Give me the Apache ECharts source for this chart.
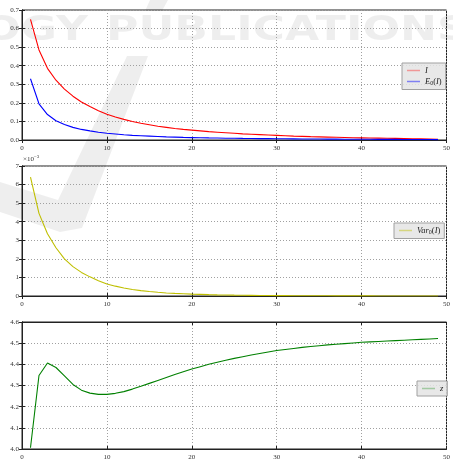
<!DOCTYPE html>
<html><head><meta charset="utf-8">
<script src="https://cdn.jsdelivr.net/npm/echarts@6/dist/echarts.min.js"></script>
<style>html,body{margin:0;padding:0;background:#fff}#c{width:453px;height:461px}</style>
</head><body><div id="c"></div><script>
// x positions (iteration index)
const X = [1,2,3,4,5,6,7,8,9,10,11,12,13,14,15,16,17,18,19,20,21,22,23,24,25,26,27,28,29,30,31,32,33,34,35,36,37,38,39,40,41,42,43,44,45,46,47,48,49];
// panel 1: I (red)
const I_VAL = [0.650,0.485,0.386,0.322,0.274,0.236,0.205,0.180,0.158,0.139,0.124,0.111,0.100,0.090,0.082,0.074,0.068,0.062,0.057,0.053,0.049,0.045,0.042,0.039,0.036,0.033,0.031,0.029,0.027,0.025,0.023,0.021,0.0195,0.018,0.017,0.0157,0.0145,0.0133,0.0122,0.0115,0.0108,0.0100,0.0093,0.0086,0.0079,0.0070,0.0061,0.0052,0.0042];
// panel 1: E0(I) (blue)
const E0_VAL = [0.330,0.195,0.137,0.104,0.083,0.068,0.057,0.049,0.042,0.036,0.032,0.028,0.025,0.023,0.021,0.019,0.017,0.0155,0.014,0.013,0.012,0.0112,0.0105,0.0098,0.0092,0.0086,0.0081,0.0076,0.0072,0.0068,0.0064,0.0060,0.0057,0.0054,0.0051,0.0048,0.0046,0.0043,0.0041,0.0039,0.0037,0.0035,0.0033,0.0031,0.0029,0.0027,0.0025,0.0023,0.0021];
// panel 2: Var0(I), in units of 1e-3
const VAR_E3 = [6.40,4.45,3.35,2.60,2.00,1.58,1.27,1.03,0.82,0.65,0.53,0.43,0.35,0.29,0.24,0.20,0.165,0.14,0.12,0.10,0.085,0.072,0.062,0.053,0.046,0.040,0.034,0.030,0.026,0.022,0.019,0.017,0.015,0.013,0.011,0.0095,0.0082,0.0071,0.0061,0.0053,0.0046,0.0040,0.0035,0.0030,0.0026,0.0023,0.0020,0.0017,0.0015];
// panel 3: z (green)
const Z_VAL = [4.006,4.347,4.406,4.385,4.345,4.305,4.278,4.264,4.258,4.258,4.263,4.271,4.283,4.296,4.310,4.324,4.338,4.352,4.365,4.378,4.389,4.400,4.410,4.419,4.428,4.436,4.444,4.451,4.458,4.465,4.470,4.475,4.480,4.484,4.488,4.492,4.495,4.498,4.501,4.504,4.506,4.508,4.510,4.512,4.514,4.516,4.518,4.520,4.522];
// tick settings
const X_TICKS = {min:0, max:50, interval:10};
const Y1_TICKS = {min:0, max:0.7, interval:0.1};
const Y2_TICKS = {min:0, max:7, interval:1};
const Y3_TICKS = {min:4.0, max:4.6, interval:0.1};

const pairs = (xs, ys) => xs.map((x, i) => [x, ys[i]]);
const FONT = 'Liberation Serif';
const grids = [
  {left:22, top:10, width:429, height:130},
  {left:22, top:166, width:429, height:130},
  {left:22, top:322, width:429, height:130}
].map(g => Object.assign(g, {show:true, borderColor:'#222', borderWidth:1, backgroundColor:'transparent', containLabel:false}));

const tick = {show:true, inside:true, length:3, lineStyle:{color:'#222', width:1}};
const split = {show:true, lineStyle:{color:'#a0a0a0', type:[1,2], width:1}};
const lbl = {fontSize:7, color:'#333', fontFamily:FONT};

const xAxis = [];
const yAxis = [];
for (let g = 0; g < 3; g++) {
  xAxis.push({type:'value', gridIndex:g, position:'bottom', ...X_TICKS,
    axisLine:{show:true, lineStyle:{color:'#222'}}, axisTick:tick, splitLine:split,
    axisLabel:Object.assign({margin:5, showMaxLabel:true}, lbl)});
  xAxis.push({type:'value', gridIndex:g, position:'top', ...X_TICKS,
    axisLine:{show:true, lineStyle:{color:'#222'}}, axisTick:tick, splitLine:{show:false}, axisLabel:{show:false}});
}
const yT = [Y1_TICKS, Y2_TICKS, Y3_TICKS];
const yFmt = [v => v.toFixed(1), v => String(Math.round(v)), v => v.toFixed(1)];
for (let g = 0; g < 3; g++) {
  yAxis.push({type:'value', gridIndex:g, position:'left', ...yT[g],
    axisLine:{show:true, lineStyle:{color:'#222'}}, axisTick:tick, splitLine:split,
    axisLabel:Object.assign({margin:3, formatter:yFmt[g]}, lbl)});
  yAxis.push({type:'value', gridIndex:g, position:'right', ...yT[g],
    axisLine:{show:true, lineStyle:{color:'#222'}}, axisTick:tick, splitLine:{show:false}, axisLabel:{show:false}});
}

const COLORS = {'I':'#ff0000', 'E0(I)':'#0000ff', 'Var0(I)':'#bfbf00', 'z':'#008000'};
const FADED = {'I':'rgba(255,0,0,0.35)', 'E0(I)':'rgba(0,0,255,0.45)', 'Var0(I)':'rgba(191,191,0,0.45)', 'z':'rgba(0,128,0,0.3)'};
const mk = (name, data, g) => ({
  name, type:'line', xAxisIndex:2*g, yAxisIndex:2*g, data, showSymbol:false, symbol:'none',
  smooth:false, lineStyle:{color:COLORS[name], width:1.1}, itemStyle:{color:COLORS[name]}, animation:false, z:3
});
const rich = {
  it:{fontStyle:'italic', fontFamily:FONT, fontSize:8.5, color:'#222'},
  rm:{fontFamily:FONT, fontSize:8.5, color:'#222'},
  sub:{fontFamily:FONT, fontSize:6, color:'#222', padding:[4,0,0,0]}
};
const legendFmt = {
  'I':'{it|I}',
  'E0(I)':'{it|E}{sub|0}{rm|(}{it|I}{rm|)}',
  'Var0(I)':'{it|Var}{sub|0}{rm|(}{it|I}{rm|)}',
  'z':'{it|z}'
};
const legendBase = {
  orient:'vertical', backgroundColor:'rgba(228,228,228,0.85)', borderColor:'#a0a0a0', borderWidth:1,
  borderRadius:0, padding:[3,4,3,5], itemGap:2, itemWidth:13, itemHeight:1.5, icon:'rect',
  selectedMode:false,
  formatter: n => legendFmt[n], textStyle:{fontFamily:FONT, fontSize:8.5, rich}
};
const legItems = names => names.map(n => ({name:n, itemStyle:{color:FADED[n]}}));

const WM = 'rgba(0,0,0,0.065)';
const option = {
  animation:false,
  backgroundColor:'#fff',
  grid:grids, xAxis, yAxis,
  legend:[
    Object.assign({}, legendBase, {data:legItems(['I','E0(I)']), left:402, top:63}),
    Object.assign({}, legendBase, {data:legItems(['Var0(I)']), left:394, top:223}),
    Object.assign({}, legendBase, {data:legItems(['z']), left:417, top:381})
  ],
  series:[
    mk('I', pairs(X, I_VAL), 0),
    mk('E0(I)', pairs(X, E0_VAL), 0),
    mk('Var0(I)', pairs(X, VAR_E3), 1),
    mk('z', pairs(X, Z_VAL), 2)
  ],
  graphic:[
    {type:'text', left:23, top:154, z:10, style:{text:'{a|×10}{b|−3}', rich:{
      a:{fontFamily:FONT, fontSize:7, fill:'#333'}, b:{fontFamily:FONT, fontSize:5, fill:'#333', padding:[0,0,5,0]}}}},
    // faint publisher watermark
    {type:'group', z:-5, silent:true, children:[
      {type:'text', x:88, y:14, scaleX:1.3, style:{text:'OGY', align:'right', verticalAlign:'top', fontFamily:'DejaVu Sans', fontWeight:'bold', fontSize:34, fill:WM}},
      {type:'text', x:106, y:14, scaleX:1.3, style:{text:'PUBLICATIONS', align:'left', verticalAlign:'top', fontFamily:'DejaVu Sans', fontWeight:'bold', fontSize:34, fill:WM}},
      {type:'polygon', shape:{points:[[150,0],[168,0],[162,11],[145,11]]}, style:{fill:WM}},
      {type:'polygon', shape:{points:[[127,56],[148,56],[82,228],[60,232],[0,212],[0,182],[58,200]]}, style:{fill:WM}}
    ]}
  ]
};
const chart = echarts.init(document.getElementById('c'), null, {renderer:'canvas'});
chart.setOption(option);
</script></body></html>
